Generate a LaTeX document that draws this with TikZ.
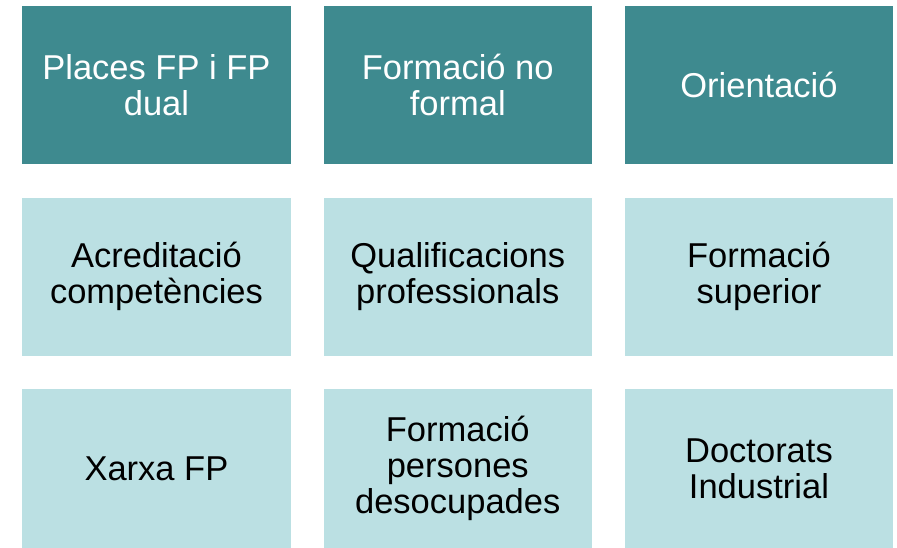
\documentclass[tikz,border=0pt]{standalone}
\usepackage{fontspec}
\setmainfont{Liberation Sans}
\definecolor{darkteal}{HTML}{3E8A8F}
\definecolor{lightteal}{HTML}{BBE0E3}
\begin{document}
\begin{tikzpicture}[x=1pt,y=-1pt,
  cell/.style={minimum width=268.5pt,minimum height=158.5pt,inner sep=0pt,anchor=north west,
    align=center,font=\fontsize{34.5}{36}\selectfont},
  darkcell/.style={cell,fill=darkteal,text=white},
  lightcell/.style={cell,fill=lightteal,text=black}]
\useasboundingbox (0,0) rectangle (897,547);
\node[darkcell] (a1) at (22,5.5) {Places FP i FP\\dual};
\node[darkcell] (a2) at (323.3,5.5) {Formació no\\formal};
\node[darkcell] (a3) at (624.5,5.5) {Orientació};
\node[lightcell] (b1) at (22,197.3) {Acreditació\\competències};
\node[lightcell] (b2) at (323.3,197.3) {Qualificacions\\professionals};
\node[lightcell] (b3) at (624.5,197.3) {Formació\\superior};
\node[lightcell] (c1) at (22,389) {Xarxa FP};
\node[lightcell] (c2) at (323.3,389) {Formació\\persones\\desocupades};
\node[lightcell] (c3) at (624.5,389) {Doctorats\\Industrial};
\end{tikzpicture}
\end{document}
